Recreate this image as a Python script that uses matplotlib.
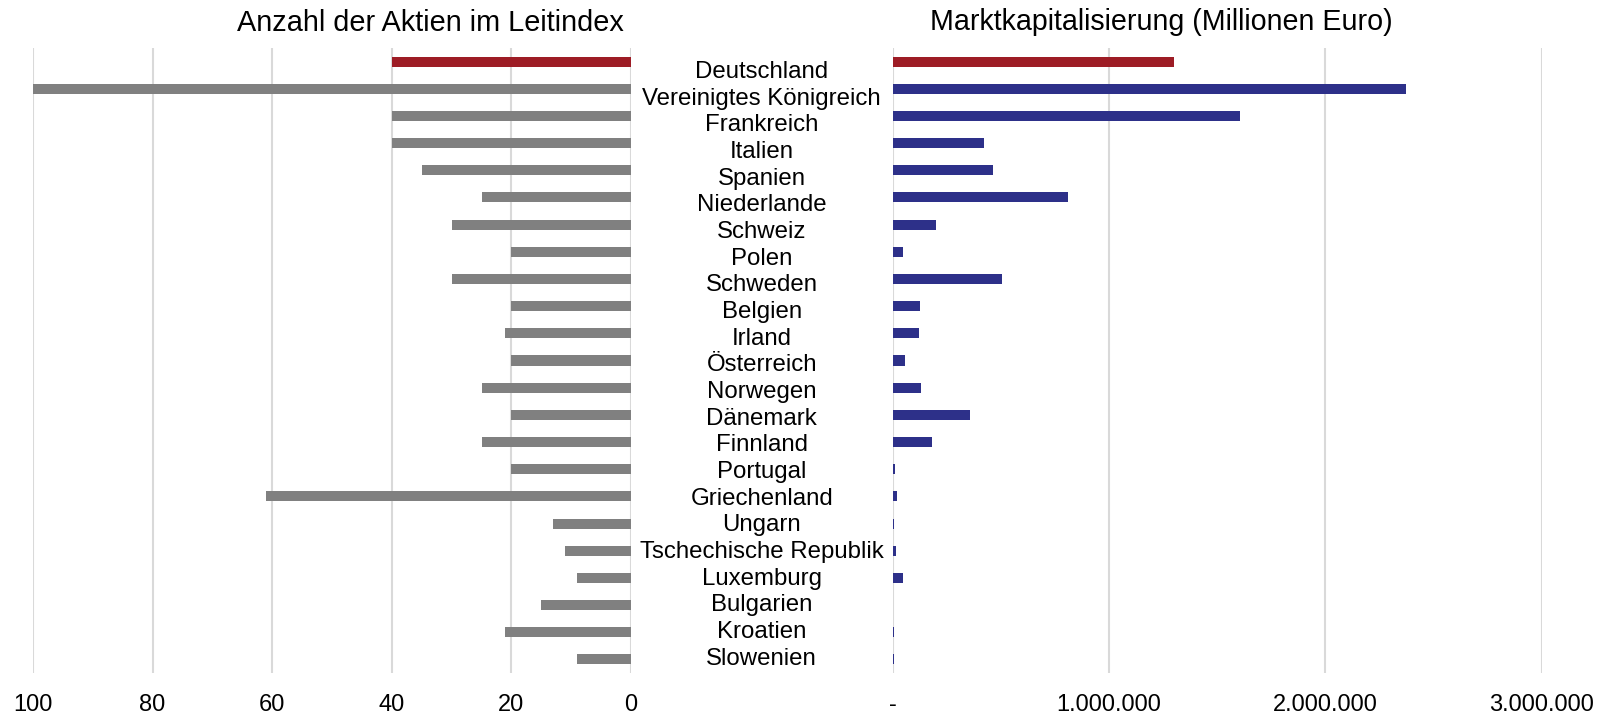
import matplotlib
matplotlib.use("Agg")
import matplotlib.pyplot as plt
from matplotlib.ticker import FuncFormatter
import numpy as np

plt.rcParams['font.family'] = ['Liberation Sans', 'DejaVu Sans']

#------------------------- DATA -------------------------#
laender = ['Deutschland', 'Vereinigtes Königreich', 'Frankreich', 'Italien',
           'Spanien', 'Niederlande', 'Schweiz', 'Polen', 'Schweden', 'Belgien',
           'Irland', 'Österreich', 'Norwegen', 'Dänemark', 'Finnland',
           'Portugal', 'Griechenland', 'Ungarn', 'Tschechische Republik',
           'Luxemburg', 'Bulgarien', 'Kroatien', 'Slowenien']

# Anzahl der Aktien im Leitindex
aktien = [40, 100, 40, 40, 35, 25, 30, 20, 30, 20, 21, 20,
          25, 20, 25, 20, 61, 13, 11, 9, 15, 21, 9]

# Marktkapitalisierung in Millionen Euro
mcap = [1300000, 2375000, 1605000, 423000, 464000, 813000, 200000, 50000,
        505000, 126000, 121000, 59000, 130000, 360000, 182000, 11000,
        20000, 9000, 15000, 48000, 3000, 6000, 8000]

ticks_links = [100, 80, 60, 40, 20, 0]
ticks_rechts = [0, 1000000, 2000000, 3000000]

ROT = '#9d1c25'
GRAU = '#808080'
BLAU = '#2d3089'
GITTER = '#d9d9d9'

#------------------------ FIGURE ------------------------#
W, H = 1616, 719
fig = plt.figure(figsize=(W / 100, H / 100), dpi=100)

def box(x0, x1, y0, y1):
    # pixel box -> figure fraction
    return [x0 / W, (H - y1) / H, (x1 - x0) / W, (y1 - y0) / H]

ax_l = fig.add_axes(box(33, 631, 48, 673))
ax_r = fig.add_axes(box(892.5, 1541.5, 48, 673))
ax_m = fig.add_axes(box(631, 892.5, 48, 673))

y = np.arange(len(laender))
farben_l = [ROT] + [GRAU] * (len(laender) - 1)
farben_r = [ROT] + [BLAU] * (len(laender) - 1)

ax_l.barh(y, aktien, height=0.37, color=farben_l, zorder=3)
ax_r.barh(y, mcap, height=0.37, color=farben_r, zorder=3)

ax_l.set_xlim(100, 0)
ax_r.set_xlim(0, 3000000)
ax_l.set_xticks(ticks_links)
ax_r.set_xticks(ticks_rechts)

def tausender(v, pos):
    if v == 0:
        return '-'
    return f'{int(v):,}'.replace(',', '.')

ax_r.xaxis.set_major_formatter(FuncFormatter(tausender))

for ax in (ax_l, ax_r):
    ax.set_ylim(len(laender) - 0.5, -0.5)
    ax.set_yticks([])
    ax.grid(axis='x', color=GITTER, linewidth=1.5, zorder=0)
    ax.tick_params(axis='x', length=0, pad=15, labelsize=17)
    for s in ax.spines.values():
        s.set_visible(False)
    for lbl in ax.get_xticklabels():
        lbl.set_clip_on(False)

# Laendernamen in der Mitte
ax_m.axis('off')
ax_m.set_xlim(0, 1)
ax_m.set_ylim(22.535, -0.90)
for i, name in enumerate(laender):
    ax_m.text(0.5, i, name, ha='center', va='center', fontsize=17.3)

fig.text(430 / W, 1 - 23 / H, 'Anzahl der Aktien im Leitindex',
         ha='center', va='center', fontsize=20.8)
fig.text(1161 / W, 1 - 22 / H, 'Marktkapitalisierung (Millionen Euro)',
         ha='center', va='center', fontsize=20.6)

plt.savefig('out.png', dpi=100)
